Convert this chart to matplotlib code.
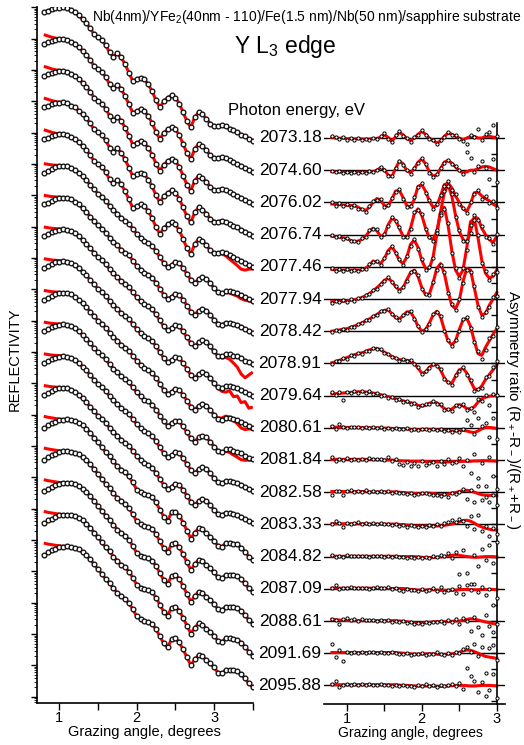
import numpy as np
import matplotlib
matplotlib.use("Agg")
import matplotlib.pyplot as plt
from matplotlib.ticker import LogLocator, NullFormatter, MultipleLocator

plt.rcParams['font.family'] = ['Liberation Sans', 'DejaVu Sans']
plt.rcParams['mathtext.fontset'] = 'custom'
plt.rcParams['mathtext.rm'] = 'Liberation Sans'
plt.rcParams['mathtext.it'] = 'Liberation Sans:italic'
plt.rcParams['mathtext.bf'] = 'Liberation Sans:bold'

# ---------------- data ----------------
ENERGIES = ["2073.18", "2074.60", "2076.02", "2076.74", "2077.46", "2077.94",
            "2078.42", "2078.91", "2079.64", "2080.61", "2081.84", "2082.58",
            "2083.33", "2084.82", "2087.09", "2088.61", "2091.69", "2095.88"]

REFL_ANGLE = [0.80, 0.85, 0.90, 0.95, 1.00, 1.05, 1.10, 1.15, 1.20, 1.25, 1.30,
              1.35, 1.40, 1.45, 1.50, 1.55, 1.60, 1.65, 1.70, 1.75, 1.80, 1.85,
              1.90, 1.95, 2.00, 2.05, 2.10, 2.15, 2.20, 2.25, 2.30, 2.35, 2.40,
              2.45, 2.50, 2.55, 2.60, 2.65, 2.70, 2.75, 2.80, 2.85, 2.90, 2.95,
              3.00, 3.05, 3.10, 3.15, 3.20, 3.25, 3.30, 3.35, 3.40, 3.45, 3.50]

# log10 reflectivity relative to each curve's maximum
REFL_A = [-0.16, -0.11, -0.06, -0.03, -0.01, 0.00, -0.03, -0.10, -0.16, -0.26,
          -0.38, -0.51, -0.67, -0.86, -0.96, -1.05, -1.21, -1.44, -1.57, -1.47,
          -1.60, -1.82, -2.08, -2.36, -2.30, -2.24, -2.30, -2.46, -2.68, -2.97,
          -3.19, -3.00, -2.88, -2.81, -2.88, -3.07, -3.35, -3.64, -3.83, -3.51,
          -3.35, -3.42, -3.55, -3.71, -3.80, -3.80, -3.77, -3.80, -3.87, -3.93,
          -3.99, -4.06, -4.12, -4.19, -4.25]
REFL_B = [-0.22, -0.16, -0.10, -0.05, -0.02, 0.00, -0.02, -0.06, -0.13, -0.22,
          -0.34, -0.46, -0.61, -0.75, -0.89, -0.99, -1.12, -1.28, -1.41, -1.53,
          -1.66, -1.76, -1.85, -2.01, -2.17, -2.30, -2.40, -2.46, -2.56, -2.72,
          -2.91, -3.10, -3.23, -3.16, -3.07, -3.10, -3.26, -3.45, -3.64, -3.74,
          -3.61, -3.55, -3.61, -3.74, -3.90, -4.03, -4.06, -3.99, -3.99, -4.03,
          -4.06, -4.12, -4.19, -4.25, -4.31]
REFL_D = [-0.27, -0.19, -0.13, -0.08, -0.03, -0.01, 0.00, -0.02, -0.05, -0.10,
          -0.19, -0.29, -0.42, -0.58, -0.73, -0.89, -1.05, -1.18, -1.34, -1.49,
          -1.60, -1.69, -1.82, -2.01, -2.24, -2.33, -2.38, -2.41, -2.48, -2.65,
          -2.88, -3.10, -3.23, -2.97, -2.94, -3.07, -3.29, -3.55, -3.80, -3.61,
          -3.47, -3.51, -3.64, -3.74, -3.87, -4.03, -4.06, -3.95, -3.95, -3.96,
          -3.99, -4.09, -4.22, -4.38, -4.50]
REFL_GROUP = ["A"] * 5 + ["B"] * 8 + ["D"] * 5

# fitted curve at the smallest angles (0.80 .. 1.05), log10 relative to maximum
FIT_START_A = [0.14, 0.10, 0.06, 0.03, 0.01, 0.00]
FIT_START_B = [0.07, 0.05, 0.03, 0.02, 0.01, 0.00]
FIT_START_D = [0.10, 0.07, 0.05, 0.03, 0.01, 0.00]
# fit minus data at the largest angles (3.00 .. 3.50), decades
FIT_TAIL = {
    "2077.46": [0.0, -0.02, -0.05, -0.08, -0.12, -0.16, -0.20, -0.25, -0.22, -0.12, -0.05],
    "2077.94": [0.0, 0.0, -0.02, -0.05, -0.07, -0.08, -0.10, -0.12, -0.10, -0.06, -0.03],
    "2078.91": [0.0, -0.02, -0.05, -0.10, -0.16, -0.24, -0.34, -0.50, -0.55, -0.40, -0.25],
    "2079.64": [0.0, -0.03, -0.10, -0.20, -0.15, -0.30, -0.25, -0.40, -0.30, -0.45, -0.35],
    "2080.61": [0.0, 0.03, 0.06, 0.05, 0.02, -0.05, -0.12, -0.20, -0.18, -0.10, -0.05],
    "2081.84": [0.0, 0.0, -0.03, -0.06, -0.10, -0.14, -0.18, -0.20, -0.15, -0.08, -0.03],
}

ASYM_ANGLE = [0.80, 0.85, 0.90, 0.95, 1.00, 1.05, 1.10, 1.15, 1.20, 1.25, 1.30,
              1.35, 1.40, 1.45, 1.50, 1.55, 1.60, 1.65, 1.70, 1.75, 1.80, 1.85,
              1.90, 1.95, 2.00, 2.05, 2.10, 2.15, 2.20, 2.25, 2.30, 2.35, 2.40,
              2.45, 2.50, 2.55, 2.60, 2.65, 2.70, 2.75, 2.80, 2.85, 2.90, 2.95,
              3.00]

# asymmetry ratio, fitted (in units of the curve spacing)
FIT_1 = [0.02, 0.0, -0.01, 0.0, -0.02, -0.02, -0.03, -0.02, -0.03, -0.04, -0.03, -0.02, -0.01, 0.02, 0.10, 0.02, -0.10, 0.04, 0.18, 0.10, -0.02, -0.08, 0.0, 0.12, 0.20, 0.12, 0.0, -0.08, -0.15, -0.10, 0.05, 0.15, 0.12, 0.05, 0.0, -0.05, 0.0, 0.05, 0.05, 0.0, 0.0, 0.05, 0.05, 0.03, 0.0]
FIT_2 = [-0.04, -0.05, -0.06, -0.06, -0.07, -0.07, -0.07, -0.06, -0.07, -0.06, -0.05, -0.05, 0.0, 0.08, 0.02, -0.15, -0.20, 0.05, 0.28, 0.20, -0.02, -0.08, 0.05, 0.25, 0.35, 0.20, -0.05, -0.18, -0.15, 0.05, 0.25, 0.30, 0.22, 0.10, -0.02, -0.08, -0.05, 0.0, 0.0, 0.05, 0.10, 0.12, 0.10, 0.05, 0.0]
FIT_3 = [-0.05, -0.06, -0.07, -0.08, -0.09, -0.1, -0.1, -0.15, -0.22, -0.25, -0.15, 0.0, 0.12, 0.08, -0.1, -0.12, 0.1, 0.35, 0.38, 0.15, -0.1, -0.15, 0.1, 0.5, 0.55, 0.35, 0.05, -0.15, -0.1, 0.2, 0.55, 0.6, 0.45, 0.2, 0.0, -0.2, -0.28, -0.05, 0.3, 0.32, 0.2, 0.12, 0.05, -0.05, -0.12]
FIT_4 = [-0.05, -0.06, -0.08, -0.1, -0.12, -0.18, -0.22, -0.2, -0.15, -0.05, 0.1, 0.2, 0.12, -0.05, -0.02, 0.3, 0.5, 0.45, 0.2, -0.05, -0.1, 0.2, 0.65, 0.8, 0.6, 0.2, -0.1, -0.15, 0.1, 0.7, 1.3, 1.55, 1.2, 0.6, 0.1, -0.15, -0.25, 0.1, 0.55, 0.5, 0.2, 0.0, -0.15, -0.25, -0.05]
FIT_5 = [-0.08, -0.1, -0.1, -0.1, -0.1, -0.1, -0.1, -0.1, -0.1, -0.05, 0.05, 0.18, 0.15, 0.1, 0.25, 0.5, 0.62, 0.45, 0.2, 0.1, 0.3, 0.7, 0.83, 0.6, 0.2, -0.05, -0.05, 0.3, 1.0, 1.7, 1.85, 1.3, 0.5, -0.1, -0.3, -0.1, 0.6, 1.4, 1.5, 0.9, 0.2, -0.2, -0.35, -0.3, -0.1]
FIT_6 = [-0.08, -0.08, -0.07, -0.07, -0.06, -0.04, -0.02, 0.0, 0.05, 0.1, 0.17, 0.25, 0.35, 0.45, 0.58, 0.64, 0.55, 0.38, 0.28, 0.35, 0.6, 0.82, 0.9, 0.7, 0.35, 0.13, 0.15, 0.5, 0.95, 1.1, 0.8, 0.25, -0.2, -0.3, -0.05, 0.55, 0.95, 0.9, 0.35, -0.2, -0.5, -0.45, -0.2, 0.0, 0.2]
FIT_7 = [0.0, 0.02, 0.04, 0.06, 0.08, 0.12, 0.16, 0.2, 0.26, 0.32, 0.38, 0.45, 0.52, 0.6, 0.65, 0.66, 0.55, 0.42, 0.38, 0.48, 0.6, 0.6, 0.4, 0.15, 0.0, 0.05, 0.25, 0.5, 0.62, 0.45, 0.05, -0.3, -0.43, -0.3, 0.05, 0.35, 0.4, 0.15, -0.3, -0.7, -0.75, -0.5, -0.3, -0.1, 0.08]
FIT_8 = [0.02, 0.05, 0.1, 0.13, 0.18, 0.23, 0.27, 0.3, 0.33, 0.37, 0.42, 0.45, 0.47, 0.42, 0.35, 0.28, 0.22, 0.16, 0.12, 0.1, 0.1, 0.07, 0.0, -0.15, -0.3, -0.28, -0.12, -0.04, -0.05, -0.2, -0.45, -0.6, -0.62, -0.4, -0.2, -0.15, -0.3, -0.55, -0.78, -0.83, -0.7, -0.5, -0.35, -0.2, -0.05]
FIT_9 = [0.05, 0.06, 0.07, 0.08, 0.09, 0.1, 0.11, 0.12, 0.12, 0.11, 0.1, 0.08, 0.06, 0.03, 0.0, -0.03, -0.06, -0.1, -0.13, -0.16, -0.2, -0.22, -0.25, -0.3, -0.33, -0.3, -0.24, -0.2, -0.22, -0.3, -0.4, -0.45, -0.42, -0.33, -0.28, -0.32, -0.4, -0.42, -0.35, -0.2, -0.1, -0.05, -0.02, 0.0, 0.0]
FIT_10 = [0.03, 0.02, 0.02, 0.02, 0.01, 0.01, 0.01, 0.01, 0.01, 0.0, 0.0, 0.0, 0.0, -0.01, -0.01, -0.01, -0.02, -0.02, -0.02, -0.03, -0.04, -0.05, -0.06, -0.06, -0.06, -0.05, -0.05, -0.05, -0.06, -0.07, -0.08, -0.09, -0.1, -0.1, -0.09, -0.08, -0.1, -0.13, -0.15, -0.1, -0.03, 0.01, 0.01, 0.0, -0.02]
FIT_11 = [0.02, 0.02, 0.02, 0.02, 0.02, 0.02, 0.02, 0.02, 0.02, 0.02, 0.02, 0.02, 0.01, 0.01, 0.0, 0.0, 0.0, -0.01, -0.02, -0.03, -0.03, -0.04, -0.04, -0.04, -0.04, -0.05, -0.05, -0.06, -0.06, -0.06, -0.06, -0.06, -0.05, -0.05, -0.05, -0.04, -0.04, -0.04, -0.03, -0.03, -0.02, -0.02, -0.03, -0.03, -0.04]
FIT_12 = [0.02, 0.02, 0.02, 0.02, 0.02, 0.02, 0.02, 0.02, 0.02, 0.02, 0.01, 0.01, 0.01, 0.01, 0.01, 0.01, 0.01, 0.01, 0.0, -0.01, -0.02, -0.03, -0.04, -0.05, -0.05, -0.04, -0.03, -0.04, -0.06, -0.08, -0.08, -0.06, -0.03, -0.01, 0.02, 0.05, 0.06, 0.04, 0.0, -0.04, -0.08, -0.09, -0.1, -0.1, -0.11]
FIT_13 = [0.02, 0.02, 0.02, 0.02, 0.02, 0.02, 0.02, 0.02, 0.02, 0.02, 0.01, 0.01, 0.01, 0.01, 0.01, 0.01, 0.01, 0.01, 0.0, -0.01, -0.02, -0.03, -0.04, -0.05, -0.05, -0.05, -0.05, -0.05, -0.05, -0.04, -0.03, -0.01, 0.01, 0.04, 0.08, 0.12, 0.13, 0.1, 0.04, -0.03, -0.08, -0.12, -0.15, -0.17, -0.18]
FIT_14 = [0.01, 0.01, 0.01, 0.01, 0.01, 0.01, 0.01, 0.01, 0.01, 0.01, 0.01, 0.01, 0.01, 0.01, 0.01, 0.01, 0.01, 0.01, 0.0, 0.0, 0.0, 0.0, 0.0, -0.01, -0.02, -0.03, -0.03, -0.03, -0.02, -0.01, 0.0, 0.02, 0.04, 0.05, 0.04, 0.02, 0.0, -0.01, -0.02, -0.02, -0.01, 0.0, 0.0, 0.0, -0.01]
FIT_15 = [0.02, 0.02, 0.02, 0.02, 0.02, 0.02, 0.02, 0.02, 0.02, 0.02, 0.02, 0.02, 0.02, 0.02, 0.01, 0.01, 0.01, 0.01, 0.01, 0.01, 0.0, -0.02, -0.03, -0.04, -0.04, -0.04, -0.03, -0.03, -0.04, -0.05, -0.05, -0.05, -0.05, -0.04, -0.03, -0.02, -0.02, -0.03, -0.03, -0.03, -0.02, -0.02, -0.02, -0.02, -0.03]
FIT_16 = [0.05, 0.04, 0.03, 0.02, 0.02, 0.01, 0.01, 0.01, 0.01, 0.01, 0.01, 0.01, 0.01, 0.01, 0.01, 0.01, 0.01, 0.01, 0.0, -0.01, -0.02, -0.04, -0.06, -0.07, -0.06, -0.05, -0.04, -0.03, -0.02, -0.02, -0.02, -0.02, -0.01, 0.0, 0.0, 0.02, 0.05, 0.07, 0.06, 0.03, 0.0, -0.03, -0.05, -0.08, -0.1]
FIT_17 = [0.02, 0.02, 0.02, 0.02, 0.02, 0.02, 0.02, 0.02, 0.02, 0.02, 0.02, 0.02, 0.02, 0.02, 0.02, 0.02, 0.02, 0.02, 0.01, 0.0, -0.01, -0.02, -0.03, -0.03, -0.03, -0.02, -0.02, -0.02, -0.03, -0.04, -0.04, -0.03, -0.02, 0.0, 0.03, 0.07, 0.1, 0.09, 0.05, 0.0, -0.05, -0.1, -0.12, -0.14, -0.16]
FIT_18 = [0.02, 0.02, 0.02, 0.02, 0.02, 0.02, 0.02, 0.02, 0.02, 0.02, 0.02, 0.02, 0.02, 0.02, 0.02, 0.02, 0.02, 0.02, 0.01, 0.0, 0.0, -0.01, -0.02, -0.02, -0.02, -0.02, -0.02, -0.02, -0.03, -0.03, -0.03, -0.02, -0.01, 0.0, 0.0, 0.0, -0.01, -0.02, -0.02, -0.01, 0.0, 0.0, 0.0, -0.01, -0.02]

# asymmetry ratio, measured
DATA_1 = [0.06, 0.02, -0.03, 0.03, -0.05, 0.0, -0.06, 0.01, -0.05, -0.02, -0.07, 0.0, -0.04, 0.05, 0.14, -0.02, -0.12, 0.08, 0.22, 0.06, 0.01, -0.12, 0.04, 0.10, 0.24, 0.09, -0.04, -0.05, -0.19, -0.06, 0.02, 0.18, 0.08, 0.10, -0.03, -0.09, -0.19, 0.10, 0.02, 0.28, -0.05, 0.12, 0.20, 0.40, 0.05]
DATA_2 = [-0.02, -0.07, -0.04, -0.08, -0.05, -0.09, -0.06, -0.08, -0.05, -0.09, -0.04, -0.06, 0.02, 0.10, 0.0, -0.17, -0.18, 0.08, 0.30, 0.17, 0.0, -0.11, 0.07, 0.22, 0.37, 0.18, -0.08, -0.20, -0.13, 0.08, 0.22, 0.33, 0.20, 0.13, 0.02, -0.12, 0.55, 0.39, -0.06, 0.12, 0.30, 0.08, -0.28, 0.34, -0.38]
DATA_3 = [0.0, -0.1, -0.03, -0.11, -0.06, -0.14, -0.08, -0.19, -0.2, -0.29, -0.12, 0.04, 0.09, 0.12, -0.14, -0.08, 0.14, 0.33, 0.42, 0.1, -0.14, -0.12, 0.16, 0.47, 0.6, 0.3, 0.09, -0.2, -0.06, 0.24, 0.52, 0.66, 0.4, 0.25, -0.05, -0.16, -0.33, 0.02, 0.26, 0.38, 0.12, 0.2, -0.02, 0.04, -0.18]
DATA_4 = [-0.02, -0.09, -0.05, -0.13, -0.1, -0.2, -0.19, -0.24, -0.11, -0.09, 0.14, 0.17, 0.16, -0.08, 0.02, 0.26, 0.54, 0.41, 0.24, -0.09, -0.06, 0.16, 0.69, 0.76, 0.64, 0.16, -0.06, -0.19, 0.14, 0.66, 1.34, 1.5, 1.25, 0.55, 0.15, -0.2, -0.2, 0.05, 0.6, 0.45, 0.26, -0.06, -0.1, -0.3, 0.02]
DATA_5 = [-0.04, -0.13, -0.07, -0.12, -0.08, -0.14, -0.09, -0.12, -0.06, -0.08, 0.08, 0.15, 0.19, 0.07, 0.28, 0.46, 0.66, 0.42, 0.24, 0.06, 0.34, 0.66, 0.87, 0.55, 0.25, -0.09, -0.01, 0.26, 1.05, 1.62, 1.8, 1.36, 0.44, -0.05, -0.35, -0.05, 0.52, 1.3, 1.45, 0.98, 0.12, -0.12, -0.42, -0.22, -0.16]
DATA_6 = [-0.12, -0.05, -0.1, -0.04, -0.09, -0.01, -0.05, 0.03, 0.02, 0.13, 0.14, 0.28, 0.32, 0.48, 0.55, 0.67, 0.52, 0.41, 0.25, 0.38, 0.57, 0.85, 0.87, 0.73, 0.31, 0.16, 0.12, 0.53, 0.9, 1.05, 0.84, 0.2, -0.15, -0.34, 0.0, 0.5, 0.9, 0.85, 0.4, -0.26, -0.55, -0.4, -0.26, 0.06, 0.1]
DATA_7 = [-0.04, 0.04, 0.0, 0.08, 0.05, 0.14, 0.13, 0.23, 0.24, 0.35, 0.36, 0.47, 0.5, 0.62, 0.63, 0.68, 0.53, 0.45, 0.36, 0.5, 0.58, 0.62, 0.37, 0.17, -0.03, 0.08, 0.22, 0.52, 0.6, 0.48, 0.02, -0.26, -0.46, -0.27, 0.0, 0.38, 0.44, 0.1, -0.35, -0.62, -0.85, -0.58, -0.22, -0.15, 0.12]
DATA_8 = [-0.03, 0.08, 0.06, 0.16, 0.15, 0.26, 0.24, 0.33, 0.3, 0.4, 0.39, 0.48, 0.44, 0.45, 0.32, 0.3, 0.19, 0.18, 0.09, 0.13, 0.07, 0.1, -0.03, -0.12, -0.33, -0.25, -0.15, -0.01, -0.08, -0.17, -0.48, -0.57, -0.66, -0.36, -0.24, -0.1, -0.36, -0.5, -0.85, -0.78, -0.76, -0.42, -0.4, -0.12, 0.08]
DATA_9 = [0.1, 0.02, 0.11, -0.15, 0.12, 0.07, 0.14, 0.09, 0.15, 0.08, 0.13, 0.05, 0.09, 0.0, 0.03, -0.06, -0.03, -0.13, -0.1, -0.19, -0.17, -0.25, -0.22, -0.34, -0.3, -0.27, -0.27, -0.16, -0.25, -0.27, -0.44, -0.42, -0.48, -0.3, -0.33, -0.26, -0.46, -0.38, -0.5, -0.12, -0.18, 0.02, -0.3, 0.05, 0.02]
DATA_10 = [0.07, -0.05, 0.12, 0.04, 0.0, 0.03, 0.01, 0.03, -0.01, 0.02, 0.0, 0.02, -0.02, 0.01, -0.03, 0.0, -0.04, 0.0, -0.03, -0.05, -0.02, -0.07, -0.04, -0.08, -0.05, -0.03, -0.07, -0.04, -0.08, -0.05, -0.1, -0.06, -0.12, -0.08, -0.12, -0.05, 0.25, 0.1, -0.2, 0.3, 0.05, 0.15, -0.3, 0.3, -0.35]
DATA_11 = [0.1, -0.02, 0.04, 0.0, 0.05, 0.01, 0.03, -0.01, 0.04, 0.0, 0.05, 0.02, 0.03, 0.04, -0.01, 0.08, -0.04, 0.02, -0.12, -0.15, -0.05, -0.18, -0.08, -0.2, -0.04, -0.15, -0.1, -0.06, -0.2, -0.02, -0.12, 0.03, -0.1, -0.05, 0.06, -0.2, 0.0, -0.4, 0.2, -0.55, -0.1, -0.8, 0.1, -0.5, -0.9]
DATA_12 = [-0.08, 0.03, 0.05, -0.1, 0.04, 0.08, 0.02, 0.05, 0.0, 0.06, 0.02, 0.04, 0.01, 0.05, 0.0, 0.03, -0.02, 0.02, -0.04, -0.02, -0.06, -0.03, -0.08, -0.05, -0.04, -0.02, -0.06, -0.1, -0.08, -0.12, -0.05, -0.14, -0.03, -0.06, 0.0, 0.1, -0.2, 0.06, -0.3, 0.2, -0.25, -0.15, -0.3, -0.1, -0.4]
DATA_13 = [0.0, 0.1, 0.04, -0.08, 0.05, 0.0, 0.03, 0.06, 0.01, 0.04, 0.02, 0.05, 0.0, 0.03, 0.01, 0.02, -0.03, 0.0, -0.05, -0.02, -0.07, -0.03, -0.06, -0.09, -0.04, -0.07, -0.02, -0.05, 0.0, -0.04, 0.03, 0.06, 0.15, 0.08, 0.18, 0.1, -0.05, 0.25, -0.15, 0.3, -0.2, -0.05, -0.35, -0.1, -0.3]
DATA_14 = [0.05, -0.02, 0.03, 0.0, 0.04, 0.01, 0.03, 0.02, 0.01, 0.03, 0.0, 0.02, 0.01, 0.02, 0.0, 0.01, -0.01, 0.02, -0.02, 0.0, -0.03, -0.01, -0.04, -0.02, -0.05, -0.01, -0.03, 0.02, -0.02, 0.06, 0.02, 0.1, -0.05, 0.15, -0.55, 0.2, -0.5, -0.85, 0.05, -0.3, 0.25, -0.1, 0.35, -0.2, 0.45]
DATA_15 = [0.03, 0.12, 0.0, 0.04, 0.02, 0.05, 0.01, 0.03, 0.02, 0.04, 0.0, 0.03, 0.06, 0.01, 0.02, 0.07, 0.0, 0.02, -0.04, -0.06, -0.01, -0.05, -0.03, -0.07, -0.02, -0.06, -0.03, 0.02, -0.08, 0.05, -0.1, -0.04, -0.02, -0.12, 0.08, -0.15, 0.12, -0.05, 0.15, -0.1, 0.05, -0.2, 0.0, -0.5, -0.3]
DATA_16 = [0.06, 0.03, -0.08, 0.05, 0.08, 0.02, 0.06, 0.0, 0.05, 0.02, 0.03, 0.04, 0.01, 0.03, 0.0, 0.02, -0.02, 0.01, -0.03, -0.01, -0.05, -0.04, -0.08, -0.05, -0.1, -0.04, -0.06, -0.02, -0.04, 0.0, -0.05, 0.02, -0.02, 0.06, -0.1, 0.1, 0.0, -0.3, 0.12, -0.2, -0.45, 0.2, -0.15, -0.35, -0.1]
DATA_17 = [0.29, -0.12, 0.1, -0.23, 0.05, 0.0, 0.03, 0.01, 0.04, 0.02, 0.03, 0.05, 0.01, 0.03, 0.02, 0.0, 0.03, 0.01, -0.02, -0.04, 0.0, -0.05, -0.02, -0.03, 0.02, -0.06, -0.01, -0.04, 0.03, -0.02, -0.05, 0.0, -0.06, 0.05, 0.0, 0.12, 0.2, 0.05, 0.3, -0.1, 0.18, -0.6, 0.15, 0.25, -0.2]
DATA_18 = [0.05, 0.15, -0.05, 0.02, 0.04, 0.01, 0.03, 0.02, 0.04, 0.01, 0.03, 0.0, 0.02, 0.03, 0.0, 0.02, -0.01, 0.01, -0.02, 0.0, -0.03, -0.01, -0.04, 0.0, -0.02, 0.03, -0.03, 0.01, -0.04, 0.02, -0.03, 0.0, 0.04, -0.02, 0.06, -0.1, 0.55, 0.3, 0.15, -0.2, 0.1, -0.33, -0.15, 0.35, -0.4]

ASYM_FIT = [FIT_1, FIT_2, FIT_3, FIT_4, FIT_5, FIT_6, FIT_7, FIT_8, FIT_9,
            FIT_10, FIT_11, FIT_12, FIT_13, FIT_14, FIT_15, FIT_16, FIT_17, FIT_18]
ASYM_DATA = [DATA_1, DATA_2, DATA_3, DATA_4, DATA_5, DATA_6, DATA_7, DATA_8, DATA_9,
             DATA_10, DATA_11, DATA_12, DATA_13, DATA_14, DATA_15, DATA_16, DATA_17, DATA_18]

# ---------------- layout ----------------
W, H = 524, 745
DECADE_PX = 31.34
CURVE_STEP = 31.7 / DECADE_PX      # decades between stacked curves

fig = plt.figure(figsize=(W / 100, H / 100), dpi=100)

def fx(px):
    return px / W

def fy(py):
    return 1 - py / H

# ---- left: reflectivity ----
axL = fig.add_axes([fx(37), fy(703), fx(253) - fx(37), fy(7) - fy(703)])
axL.set_yscale('log')
top_log = 0.01
axL.set_ylim(10 ** (top_log - 696 / DECADE_PX), 10 ** top_log)
axL.set_xlim(0.712, 3.503)

templates = {"A": REFL_A, "B": REFL_B, "D": REFL_D}
fit_starts = {"A": FIT_START_A, "B": FIT_START_B, "D": FIT_START_D}
ang_l = np.array(REFL_ANGLE)
for i, e in enumerate(ENERGIES):
    g = REFL_GROUP[i]
    shape = np.array(templates[g], dtype=float)
    n = min(len(shape), len(ang_l))
    shape = shape[:n]
    level = -i * CURVE_STEP
    fit_log = shape.copy()
    if i > 0:
        st = fit_starts[g]
        fit_log[:len(st)] = st
    if e in FIT_TAIL:
        tail = np.array(FIT_TAIL[e])
        fit_log[n - len(tail):] += tail
    axL.plot(ang_l[:n], 10 ** (fit_log + level), color='#ff0000', lw=2.2,
             zorder=2, solid_capstyle='butt')
    axL.plot(ang_l[:n], 10 ** (shape + level), ls='none', marker='o', ms=3.4,
             mfc='white', mec='#111111', mew=0.95, zorder=3)

for s in ['top', 'right']:
    axL.spines[s].set_visible(False)
axL.spines['left'].set_linewidth(1.2)
axL.spines['bottom'].set_linewidth(1.2)
axL.yaxis.set_major_locator(LogLocator(base=10, numticks=100))
axL.yaxis.set_minor_locator(LogLocator(base=10, subs=np.arange(2, 10), numticks=100))
axL.yaxis.set_major_formatter(NullFormatter())
axL.yaxis.set_minor_formatter(NullFormatter())
axL.tick_params(axis='y', which='major', direction='out', length=4, width=1)
axL.tick_params(axis='y', which='minor', direction='out', length=2, width=0.6)
axL.xaxis.set_major_locator(MultipleLocator(1))
axL.xaxis.set_minor_locator(MultipleLocator(0.5))
axL.tick_params(axis='x', which='major', direction='out', length=5, width=1,
                labelsize=10.5, pad=1)
axL.tick_params(axis='x', which='minor', direction='out', length=5, width=1)

# ---- right: asymmetry ratio ----
axR = fig.add_axes([fx(324), fy(704), fx(505) - fx(324), fy(123) - fy(704)])
axR.set_xlim(0.695, 3.11)
axR.set_ylim(-(704 - 138) / 32.2, (138 - 123) / 32.2)
ang_r = np.array(ASYM_ANGLE)
for i in range(len(ENERGIES)):
    axR.axhline(-i, color='black', lw=1.0, zorder=1)
    fit = np.array(ASYM_FIT[i])
    dat = np.array(ASYM_DATA[i])
    nf = min(len(fit), len(ang_r))
    nd = min(len(dat), len(ang_r))
    axR.plot(ang_r[:nf], fit[:nf] - i, color='#ff0000', lw=2.2, zorder=2)
    axR.plot(ang_r[:nd], dat[:nd] - i, ls='none', marker='o', ms=2.3,
             mfc='white', mec='black', mew=0.7, zorder=3)

for s in ['top', 'left']:
    axR.spines[s].set_visible(False)
axR.spines['right'].set_position(('data', 3.0))
axR.spines['right'].set_linewidth(1.2)
axR.spines['bottom'].set_linewidth(1.2)
axR.yaxis.set_ticks_position('right')
axR.yaxis.set_major_locator(MultipleLocator(0.5))
axR.tick_params(axis='y', direction='in', length=4, width=1,
                labelright=False, labelleft=False)
axR.xaxis.set_major_locator(MultipleLocator(1))
axR.xaxis.set_minor_locator(MultipleLocator(0.5))
axR.tick_params(axis='x', which='major', direction='out', length=5, width=1,
                labelsize=10.5, pad=1)
axR.tick_params(axis='x', which='minor', direction='out', length=5, width=1)

# ---- texts ----
fig.text(fx(307), fy(17), r"Nb(4nm)/YFe$_2$(40nm - 110)/Fe(1.5 nm)/Nb(50 nm)/sapphire substrate",
         ha='center', va='center', fontsize=10)
fig.text(fx(285), fy(47), r"Y L$_3$ edge", ha='center', va='center', fontsize=16.5)
fig.text(fx(297), fy(110), "Photon energy, eV", ha='center', va='center', fontsize=12)
for i, e in enumerate(ENERGIES):
    fig.text(fx(290), fy(138 + 32.2 * i), e, ha='center', va='center', fontsize=12.5)
fig.text(fx(15), fy(359), "REFLECTIVITY", rotation=90, ha='center', va='center',
         fontsize=10.5)
fig.text(fx(513), fy(410), r"Asymmetry ratio (R$_+$-R$_-$)/(R$_+$+R$_-$)",
         rotation=270, ha='center', va='center', fontsize=11)
fig.text(fx(144.5), fy(732), "Grazing angle, degrees", ha='center', va='center',
         fontsize=10.5)
fig.text(fx(410), fy(733), "Grazing angle, degrees", ha='center', va='center',
         fontsize=10)

fig.savefig("out.png", dpi=100)
